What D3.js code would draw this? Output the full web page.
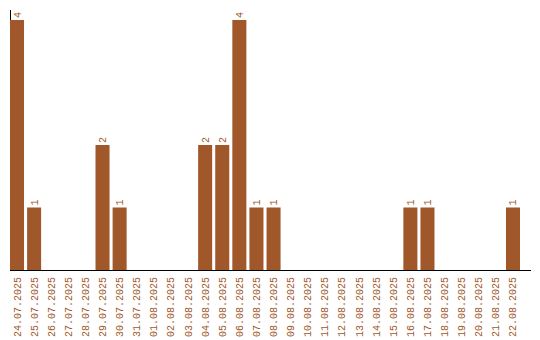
<!DOCTYPE html>
<html>
<head>
<meta charset="utf-8">
<script src="https://cdn.jsdelivr.net/npm/d3@7"></script>
<style>
  body { margin: 0; background: #fff; }
  svg { display: block; }
</style>
</head>
<body>
<div id="chart"></div>
<script>
var dates = ["24.07.2025", "25.07.2025", "26.07.2025", "27.07.2025", "28.07.2025",
             "29.07.2025", "30.07.2025", "31.07.2025", "01.08.2025", "02.08.2025",
             "03.08.2025", "04.08.2025", "05.08.2025", "06.08.2025", "07.08.2025",
             "08.08.2025", "09.08.2025", "10.08.2025", "11.08.2025", "12.08.2025",
             "13.08.2025", "14.08.2025", "15.08.2025", "16.08.2025", "17.08.2025",
             "18.08.2025", "19.08.2025", "20.08.2025", "21.08.2025", "22.08.2025"];
var counts = [4, 1, 0, 0, 0, 2, 1, 0, 0, 0,
              0, 2, 2, 4, 1, 1, 0, 0, 0, 0,
              0, 0, 0, 1, 1, 0, 0, 0, 0, 1];

var width = 540, height = 340;
var color = "#a0572a";
var font = "Liberation Mono, monospace";

var svg = d3.select("#chart").append("svg")
  .attr("width", width)
  .attr("height", height);

var x = d3.scaleBand()
  .domain(dates)
  .range([10, 520])
  .paddingInner(0.18)
  .paddingOuter(0);

var y = d3.scaleLinear()
  .domain([0, 4])
  .range([270, 20]);

var data = dates.map(function(d, i) { return { date: d, value: counts[i] }; });
var nonzero = data.filter(function(d) { return d.value > 0; });

// y axis line
svg.append("line")
  .attr("x1", 10.5).attr("x2", 10.5)
  .attr("y1", 10).attr("y2", y(0))
  .attr("stroke", "#000").attr("stroke-width", 1);

svg.selectAll("rect.bar")
  .data(nonzero)
  .enter()
  .append("rect")
  .attr("class", "bar")
  .attr("x", function(d) { return x(d.date); })
  .attr("y", function(d) { return y(d.value); })
  .attr("width", x.bandwidth())
  .attr("height", function(d) { return y(0) - y(d.value); })
  .attr("fill", color);

// x axis line
svg.append("line")
  .attr("x1", 10).attr("x2", 531)
  .attr("y1", y(0) + 0.5).attr("y2", y(0) + 0.5)
  .attr("stroke", "#000").attr("stroke-width", 1);

// value labels
svg.selectAll("text.value")
  .data(nonzero)
  .enter()
  .append("text")
  .attr("class", "value")
  .attr("transform", function(d) {
    return "translate(" + (x(d.date) + x.bandwidth() / 2 + 3.5) + "," + (y(d.value) - 2) + ") rotate(-90)";
  })
  .attr("font-family", font)
  .attr("font-size", 10)
  .attr("fill", color)
  .text(function(d) { return d.value; });

// date labels
svg.selectAll("text.date")
  .data(dates)
  .enter()
  .append("text")
  .attr("class", "date")
  .attr("transform", function(d) {
    return "translate(" + (x(d) + x.bandwidth() / 2 + 3.5) + "," + (y(0) + 7) + ") rotate(-90)";
  })
  .attr("text-anchor", "end")
  .attr("font-family", font)
  .attr("font-size", 10)
  .attr("fill", color)
  .text(function(d) { return d; });
</script>
</body>
</html>
